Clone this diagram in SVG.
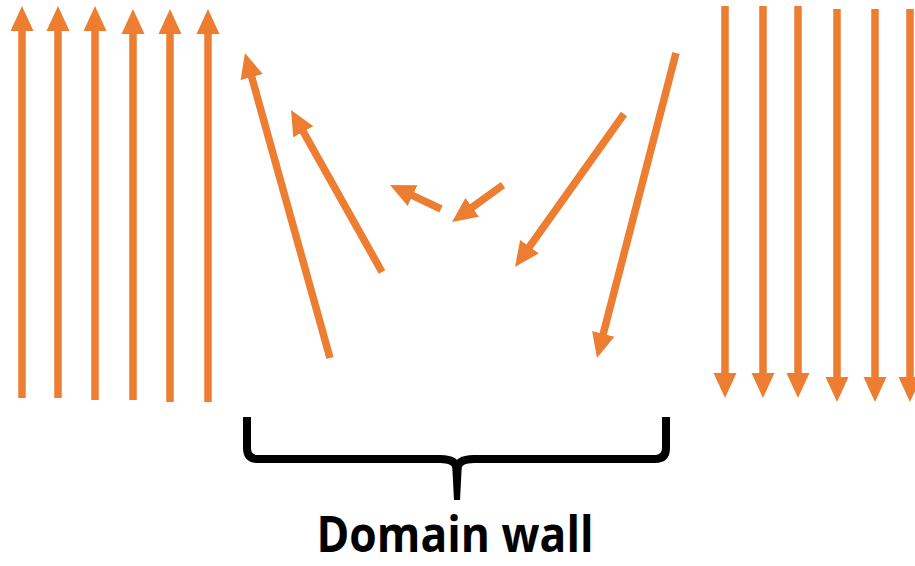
<svg xmlns="http://www.w3.org/2000/svg" width="915" height="566" viewBox="0 0 915 566">
<defs>
<style>
.arr{stroke:#ED7D31;stroke-width:7.5;fill:none;marker-end:url(#head)}
.brace{stroke:#000;stroke-width:8;fill:none;stroke-linejoin:round}
.lbl{font-family:"Open Sans","Liberation Sans",sans-serif;font-weight:bold;font-size:50px;fill:#000}
</style>
<marker id="head" markerUnits="userSpaceOnUse" viewBox="-1 -12 26 24" markerWidth="26" markerHeight="24" refX="0" refY="0" orient="auto">
<path d="M-1,-11.5 L24,0 L-1,11.5 z" fill="#ED7D31"/>
</marker>
</defs>
<rect width="915" height="566" fill="#fff"/>
<g id="connectors">
<g id="left-domain">
<line class="arr" x1="22" y1="398" x2="22" y2="30"/>
<line class="arr" x1="58" y1="398" x2="58" y2="30"/>
<line class="arr" x1="95" y1="400" x2="95" y2="30"/>
<line class="arr" x1="133" y1="400" x2="133" y2="33"/>
<line class="arr" x1="170" y1="402" x2="170" y2="33"/>
<line class="arr" x1="208" y1="402" x2="208" y2="33"/>
</g>
<g id="wall-arrows">
<line class="arr" x1="330" y1="358" x2="251.4" y2="76.1"/>
<line class="arr" x1="382" y1="272" x2="302.8" y2="130.9"/>
<line class="arr" x1="441" y1="209" x2="411.7" y2="195.2"/>
<line class="arr" x1="503" y1="185" x2="471.4" y2="207.9"/>
<line class="arr" x1="624" y1="114" x2="528.9" y2="247.5"/>
<line class="arr" x1="676" y1="53" x2="603" y2="334.8"/>
</g>
<g id="right-domain">
<line class="arr" x1="725" y1="6" x2="725" y2="374"/>
<line class="arr" x1="763" y1="6" x2="763" y2="374"/>
<line class="arr" x1="798" y1="6" x2="798" y2="374"/>
<line class="arr" x1="837" y1="9" x2="837" y2="378"/>
<line class="arr" x1="875" y1="9" x2="875" y2="378"/>
<line class="arr" x1="910" y1="9" x2="910" y2="378"/>
</g>
</g>
<g id="domain-wall">
<path class="brace" d="M247,417 V448 Q247,459 258,459 H440 Q457,459 457,470 Q457,459 474,459 H655 Q666,459 666,448 V417"/>
<path d="M452,462 L462,462 L460,500 L454,500 Z" fill="#000"/>
<text class="lbl" x="455" y="552" text-anchor="middle" textLength="277" lengthAdjust="spacingAndGlyphs">Domain wall</text>
</g>
</svg>
